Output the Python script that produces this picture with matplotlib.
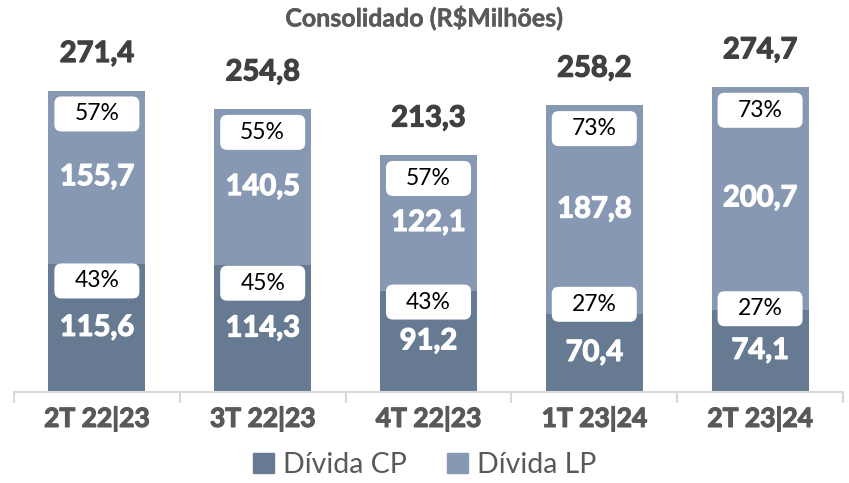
import matplotlib
matplotlib.use("Agg")
import matplotlib.pyplot as plt
import matplotlib.transforms as mtransforms
import matplotlib.patheffects as pe
from matplotlib.patches import FancyBboxPatch, Patch

plt.rcParams['font.family'] = ['Lato', 'DejaVu Sans']

# dados
trimestres = ["2T 22|23", "3T 22|23", "4T 22|23", "1T 23|24", "2T 23|24"]
divida_cp = [115.6, 114.3, 91.2, 70.4, 74.1]
divida_lp = [155.7, 140.5, 122.1, 187.8, 200.7]
totais = [271.4, 254.8, 213.3, 258.2, 274.7]
pct_cp = ["43%", "45%", "43%", "27%", "27%"]
pct_lp = ["57%", "55%", "57%", "73%", "73%"]

# altura das caixinhas de % da divida CP
cp_box_y = [100.0, 98.0, 81.0, 79.0, 75.0]

cor_cp = "#667b91"
cor_lp = "#8798b2"
cinza = "#595959"


def grosso(cor, lw=0.9):
    # engrossa um pouco o negrito do Lato
    return [pe.withStroke(linewidth=lw, foreground=cor)]


fig = plt.figure(figsize=(8.49, 4.83), dpi=100)
ax = fig.add_axes([14 / 849, 91 / 483, 829 / 849, 362 / 483])

x = list(range(len(trimestres)))
ax.bar(x, divida_cp, width=0.585, color=cor_cp)
ax.bar(x, divida_lp, width=0.585, bottom=divida_cp, color=cor_lp)

ax.set_xlim(-0.5, 4.5)
ax.set_ylim(0, 326)


def caixa(xc, yc, txt):
    w, h = 0.85, 0.35
    tr = fig.dpi_scale_trans + mtransforms.ScaledTranslation(xc, yc, ax.transData)
    p = FancyBboxPatch((-w / 2, -h / 2), w, h,
                       boxstyle="round,pad=0,rounding_size=0.07",
                       facecolor="white", edgecolor="none",
                       transform=tr, zorder=3)
    ax.add_patch(p)
    ax.text(xc, yc, txt, ha="center", va="center", fontsize=16.5,
            color="black", zorder=4)


for i in x:
    ax.text(i, divida_cp[i] / 2, f"{divida_cp[i]:.1f}".replace(".", ","),
            ha="center", va="center", fontsize=21, fontweight="bold", color="white",
            path_effects=grosso("white"))
    ax.text(i, divida_cp[i] + divida_lp[i] / 2, f"{divida_lp[i]:.1f}".replace(".", ","),
            ha="center", va="center", fontsize=21, fontweight="bold", color="white",
            path_effects=grosso("white"))
    ax.text(i, totais[i] + 33, f"{totais[i]:.1f}".replace(".", ","),
            ha="center", va="center", fontsize=21, fontweight="bold", color="#404040",
            path_effects=grosso("#404040"))
    caixa(i, totais[i] - 21, pct_lp[i])
    caixa(i, cp_box_y[i], pct_cp[i])

for s in ["top", "left", "right"]:
    ax.spines[s].set_visible(False)
ax.spines["bottom"].set_color("#d9d9d9")
ax.spines["bottom"].set_linewidth(1.5)
ax.set_yticks([])
ax.set_xticks(x)
ax.set_xticklabels(trimestres, fontsize=19, fontweight="bold", color=cinza)
for t in ax.get_xticklabels():
    t.set_path_effects(grosso(cinza))
ax.tick_params(axis="x", which="major", length=0, pad=10)
ax.set_xticks([-0.5, 0.5, 1.5, 2.5, 3.5, 4.5], minor=True)
ax.tick_params(axis="x", which="minor", length=8, width=1.5, color="#d9d9d9")

fig.text(0.5, 1 - 18 / 483, r"Consolidado (R\$Milhões)", ha="center", va="center",
         fontsize=18, fontweight="bold", color=cinza, path_effects=grosso(cinza, 0.3))

handles = [Patch(color=cor_cp, label="Dívida CP"), Patch(color=cor_lp, label="Dívida LP")]
fig.legend(handles=handles, loc="center", bbox_to_anchor=(0.5, 1 - 465 / 483), ncol=2,
           frameon=False, fontsize=20.5, labelcolor=cinza, handlelength=0.75,
           handleheight=0.75, handletextpad=0.3, columnspacing=1.4)

fig.savefig("out.png", dpi=100)
